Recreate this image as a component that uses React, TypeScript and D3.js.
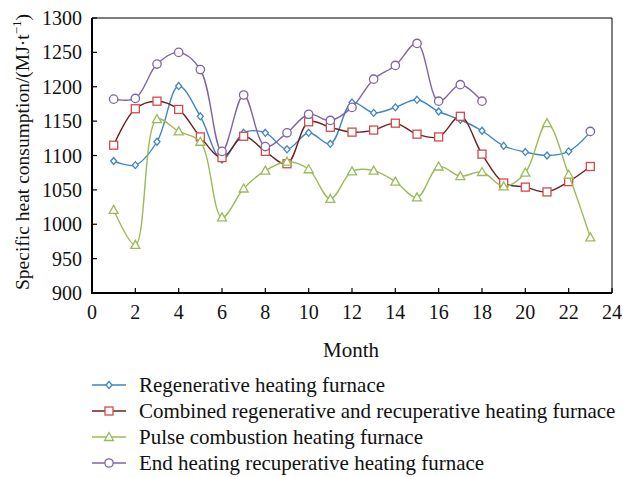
import React from 'react';
import * as d3 from 'd3';

// Monthly specific heat consumption (MJ/t)
const months = d3.range(1, 24);
const regenerative = [1092, 1086, 1120, 1201, 1157, 1094, 1133, 1133, 1109, 1133, 1117, 1177, 1162, 1170, 1181, 1164, 1152, 1136, 1114, 1105, 1100, 1106, 1134];
const combined = [1115, 1168, 1179, 1167, 1127, 1097, 1128, 1106, 1088, 1149, 1141, 1134, 1137, 1147, 1131, 1127, 1157, 1102, 1060, 1054, 1047, 1062, 1084];
const pulse = [1021, 970, 1153, 1135, 1120, 1010, 1052, 1078, 1091, 1080, 1037, 1077, 1078, 1062, 1039, 1084, 1070, 1076, 1055, 1075, 1147, 1072, 981];
const endHeating: (number | null)[] = [1182, 1183, 1233, 1250, 1225, 1106, 1188, 1113, 1133, 1160, 1151, 1170, 1211, 1231, 1263, 1179, 1203, 1179, null, null, null, null, 1135];

const xTicks = d3.range(0, 25, 2);
const yTicks = d3.range(900, 1301, 50);

type Marker = 'diamond' | 'square' | 'triangle' | 'circle';
interface Series { name: string; values: (number | null)[]; line: string; mark: string; marker: Marker }

const series: Series[] = [
  { name: 'Regenerative heating furnace', values: regenerative, line: '#3d85c6', mark: '#3d85c6', marker: 'diamond' },
  { name: 'Combined regenerative and recuperative heating furnace', values: combined, line: '#6e1f1f', mark: '#d24b4b', marker: 'square' },
  { name: 'Pulse combustion heating furnace', values: pulse, line: '#9bbb59', mark: '#9bbb59', marker: 'triangle' },
  { name: 'End heating recuperative heating furnace', values: endHeating, line: '#8064a2', mark: '#8064a2', marker: 'circle' },
];

const W = 623, H = 477;
const M = { left: 92, right: 612, top: 18, bottom: 293 };
const FONT = '"Liberation Serif", "Times New Roman", serif';

const x = d3.scaleLinear().domain([0, 24]).range([M.left, M.right]);
const y = d3.scaleLinear().domain([900, 1300]).range([M.bottom, M.top]);

function markerShape(kind: Marker, cx: number, cy: number, color: string, key: string) {
  const common = { fill: '#fff', stroke: color, strokeWidth: 1.3 };
  if (kind === 'square') return <rect key={key} x={cx - 4} y={cy - 4} width={8} height={8} {...common} />;
  if (kind === 'circle') return <circle key={key} cx={cx} cy={cy} r={4.2} {...common} />;
  if (kind === 'diamond') return <path key={key} d={`M${cx},${cy - 3.5}L${cx + 3},${cy}L${cx},${cy + 3.5}L${cx - 3},${cy}Z`} {...common} />;
  return <path key={key} d={`M${cx},${cy - 4.5}L${cx + 4.5},${cy + 3.5}L${cx - 4.5},${cy + 3.5}Z`} {...common} />;
}

export default function App() {
  const line = d3.line<number | null>()
    .defined(d => d != null)
    .x((_, i) => x(months[i]))
    .y(d => y(d as number))
    .curve(d3.curveCatmullRom.alpha(0.5));

  return (
    <svg width={W} height={H} style={{ position: 'absolute', left: 0, top: 0, background: '#fff' }} fontFamily={FONT}>
      {/* frame */}
      <line x1={M.left} x2={M.right} y1={M.top} y2={M.top} stroke="#000" strokeWidth={1} />
      <line x1={M.right} x2={M.right} y1={M.top} y2={M.bottom} stroke="#000" strokeWidth={1} />

      {/* series */}
      {series.map(s => (
        <g key={s.name}>
          <path d={line(s.values) || ''} fill="none" stroke={s.line} strokeWidth={1.4} />
          {s.values.map((v, i) => v == null ? null : markerShape(s.marker, x(months[i]), y(v), s.mark, `${s.name}-${i}`))}
        </g>
      ))}

      {/* axes */}
      <line x1={M.left} x2={M.left} y1={M.top} y2={M.bottom + 1} stroke="#000" strokeWidth={2} />
      <line x1={M.left - 1} x2={M.right} y1={M.bottom} y2={M.bottom} stroke="#000" strokeWidth={2} />
      {yTicks.map(t => (
        <g key={t}>
          <line x1={M.left} x2={M.left + 5} y1={y(t)} y2={y(t)} stroke="#000" strokeWidth={1.2} />
          <text x={M.left - 10} y={y(t)} dy="0.35em" textAnchor="end" fontSize={20} fill="#111">{t}</text>
        </g>
      ))}
      {xTicks.map(t => (
        <g key={t}>
          <line x1={x(t)} x2={x(t)} y1={M.bottom} y2={M.bottom - 5} stroke="#000" strokeWidth={1.2} />
          <text x={x(t)} y={M.bottom + 26} textAnchor="middle" fontSize={20} fill="#111">{t}</text>
        </g>
      ))}
      <text x={351} y={357} textAnchor="middle" fontSize={21} fill="#111">Month</text>
      <text transform={`translate(29,152) rotate(-90)`} textAnchor="middle" fontSize={19.5} fill="#111">
        Specific heat consumption/(MJ·t<tspan dy={-8} fontSize={13}>−1</tspan><tspan dy={8}>)</tspan>
      </text>

      {/* legend */}
      {series.map((s, i) => {
        const ly = 385 + i * 26;
        return (
          <g key={s.name}>
            <line x1={92} x2={126} y1={ly} y2={ly} stroke={s.line} strokeWidth={1.4} />
            {markerShape(s.marker, 109, ly, s.mark, `lg-${i}`)}
            <text x={139} y={ly} dy="0.33em" fontSize={21} fill="#111">{s.name}</text>
          </g>
        );
      })}
    </svg>
  );
}
